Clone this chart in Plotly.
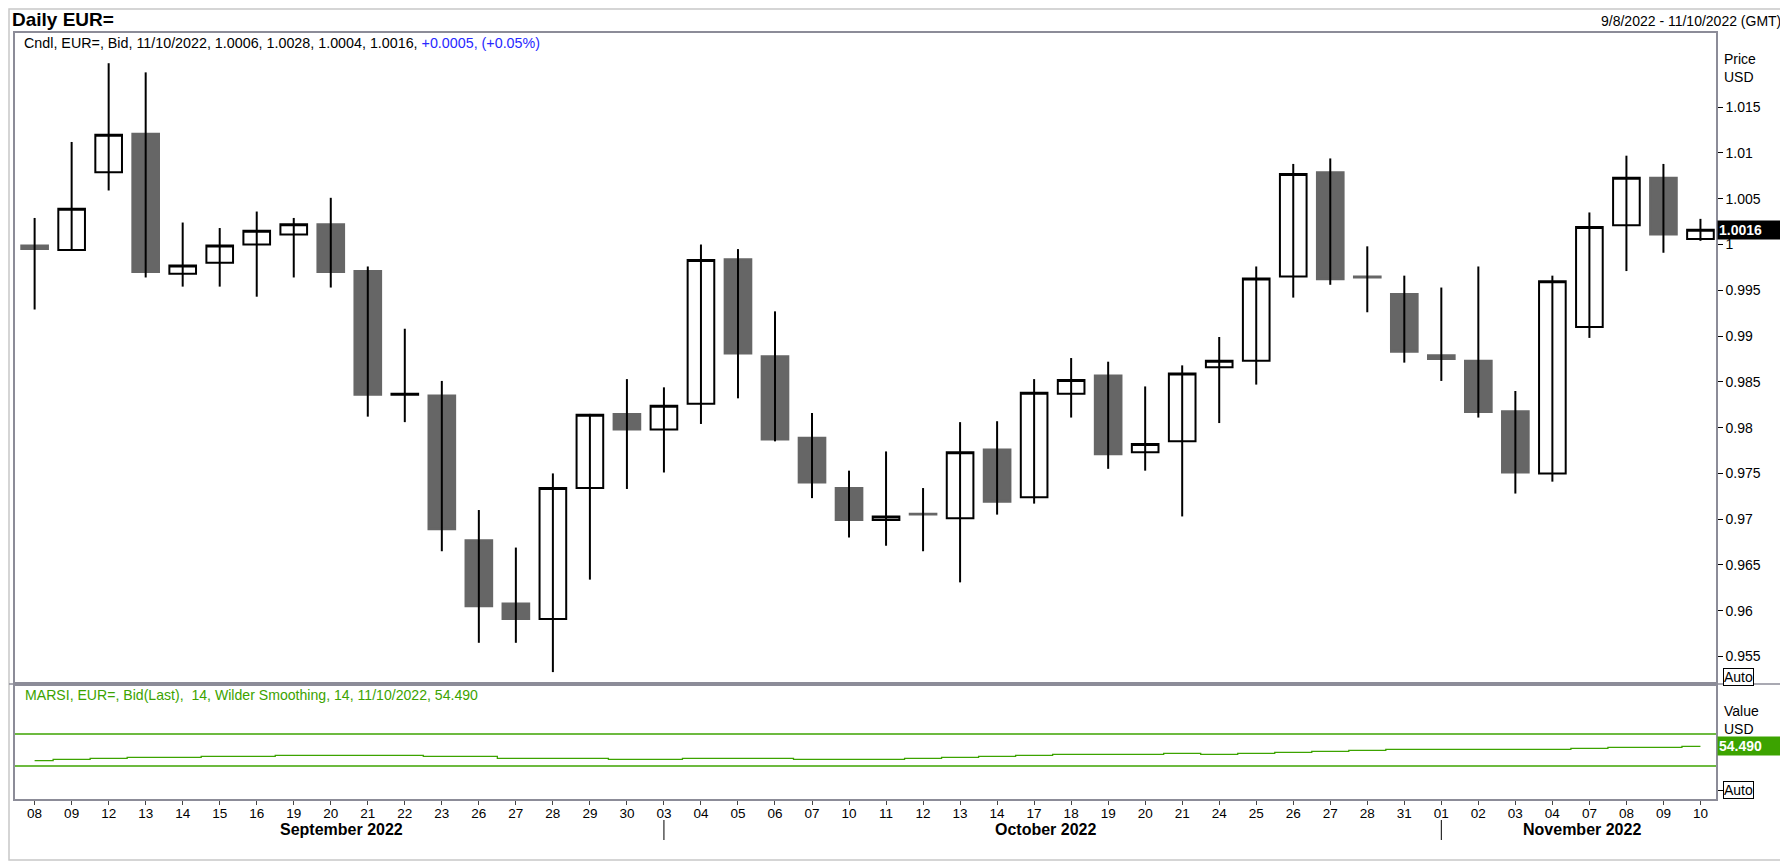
import plotly.graph_objects as go
from plotly.subplots import make_subplots

# Daily EUR= candles with the MARSI panel underneath

dates = ["2022-09-08", "2022-09-09", "2022-09-12", "2022-09-13", "2022-09-14", "2022-09-15",
         "2022-09-16", "2022-09-19", "2022-09-20", "2022-09-21", "2022-09-22", "2022-09-23",
         "2022-09-26", "2022-09-27", "2022-09-28", "2022-09-29", "2022-09-30",
         "2022-10-03", "2022-10-04", "2022-10-05", "2022-10-06", "2022-10-07", "2022-10-10",
         "2022-10-11", "2022-10-12", "2022-10-13", "2022-10-14", "2022-10-17", "2022-10-18",
         "2022-10-19", "2022-10-20", "2022-10-21", "2022-10-24", "2022-10-25", "2022-10-26",
         "2022-10-27", "2022-10-28", "2022-10-31",
         "2022-11-01", "2022-11-02", "2022-11-03", "2022-11-04", "2022-11-07", "2022-11-08",
         "2022-11-09", "2022-11-10"]
day_labels = [d[-2:] for d in dates]
month_names = {"09": "September 2022", "10": "October 2022", "11": "November 2022"}

opens = [0.9999, 0.9994, 1.0079, 1.0121, 0.9968, 0.9980, 1.0000, 1.0011, 1.0022, 0.9971,
         0.9836, 0.9835, 0.9677, 0.9608, 0.9591, 0.9734, 0.9815,
         0.9798, 0.9826, 0.9984, 0.9878, 0.9789, 0.9734, 0.9699, 0.9706, 0.9701, 0.9776,
         0.9724, 0.9837, 0.9857, 0.9773, 0.9785, 0.9866, 0.9873, 0.9965, 1.0079, 0.9965,
         0.9946,
         0.9879, 0.9873, 0.9818, 0.9750, 0.9910, 1.0021, 1.0073, 1.0006]
highs = [1.0029, 1.0112, 1.0198, 1.0188, 1.0024, 1.0018, 1.0036, 1.0029, 1.0051, 0.9976,
         0.9908, 0.9851, 0.9710, 0.9669, 0.9750, 0.9815, 0.9853,
         0.9844, 1.0000, 0.9995, 0.9927, 0.9816, 0.9753, 0.9774, 0.9734, 0.9806, 0.9807,
         0.9853, 0.9876, 0.9872, 0.9845, 0.9868, 0.9899, 0.9976, 1.0088, 1.0094, 0.9998,
         0.9966,
         0.9953, 0.9976, 0.9840, 0.9966, 1.0035, 1.0097, 1.0088, 1.0028]
lows = [0.9929, 0.9993, 1.0059, 0.9964, 0.9954, 0.9954, 0.9943, 0.9964, 0.9953, 0.9812,
        0.9806, 0.9665, 0.9565, 0.9565, 0.9533, 0.9634, 0.9733,
        0.9751, 0.9804, 0.9832, 0.9785, 0.9723, 0.9680, 0.9671, 0.9665, 0.9631, 0.9705,
        0.9717, 0.9811, 0.9755, 0.9753, 0.9703, 0.9805, 0.9847, 0.9942, 0.9956, 0.9926,
        0.9871,
        0.9851, 0.9811, 0.9728, 0.9741, 0.9898, 0.9971, 0.9991, 1.0004]
closes = [0.9995, 1.0039, 1.0120, 0.9970, 0.9977, 0.9999, 1.0015, 1.0022, 0.9970, 0.9836,
          0.9837, 0.9689, 0.9605, 0.9591, 0.9734, 0.9814, 0.9798,
          0.9824, 0.9983, 0.9881, 0.9787, 0.9740, 0.9699, 0.9703, 0.9705, 0.9773, 0.9719,
          0.9838, 0.9852, 0.9771, 0.9782, 0.9859, 0.9873, 0.9963, 1.0077, 0.9962, 0.9964,
          0.9883,
          0.9875, 0.9817, 0.9751, 0.9960, 1.0019, 1.0073, 1.0011, 1.0016]

rsi = [36.7, 38.3, 39.6, 40.8, 40.8, 42.1, 42.1, 43.3, 43.3, 43.3, 43.3, 42.1, 42.1,
       39.6, 39.6, 39.6, 38.3,
       38.3, 39.6, 39.6, 39.6, 38.3, 38.3, 38.3, 39.6, 40.8, 42.1, 43.3, 44.6, 44.6,
       44.6, 45.8, 44.6, 45.8, 47.1, 48.3, 49.6, 50.8,
       50.8, 50.8, 50.8, 50.8, 52.1, 53.3, 53.3, 54.49]
rsi_levels = [30, 70]

price_ticks = [0.955, 0.96, 0.965, 0.97, 0.975, 0.98, 0.985, 0.99, 0.995,
               1.0, 1.005, 1.01, 1.015]
rsi_ticks = [0, 50]
rsi_ticktext = ["", "50"]

FONT = "Liberation Sans, Arial, sans-serif"
GREEN = "rgb(60,163,0)"
BODY_GRAY = "#666666"
FRAME = "#8c8c98"

# pixel plan in screen coordinates: plot from x=15 to 1716, y=33 to 799, split at 684.
# the page body keeps its 8px margin, so the figure itself is shifted back by that much
W, H = 1788, 862
OFF = 8
pw, ph = 1716 - 15, 799 - 33
L, T = 15 - OFF, 33 - OFF
R, B = W - L - pw, H - T - ph
split = (799 - 684) / ph


def px(x):
    return (x - 15) / pw


def py(y):
    return (799 - y) / ph


fig = make_subplots(rows=2, cols=1, shared_xaxes=True, vertical_spacing=0)

# black wicks first, then the bodies on top of them
fig.add_trace(go.Ohlc(x=dates, open=opens, high=highs, low=lows, close=closes,
                      tickwidth=0, hoverinfo="skip",
                      increasing_line=dict(color="black", width=2),
                      decreasing_line=dict(color="black", width=2)), 1, 1)
body_top = [max(o, c) for o, c in zip(opens, closes)]
body_bot = [min(o, c) for o, c in zip(opens, closes)]
fig.add_trace(go.Candlestick(x=dates, open=opens, high=body_top, low=body_bot, close=closes,
                             increasing=dict(line=dict(color="black", width=2), fillcolor="white"),
                             decreasing=dict(line=dict(color=BODY_GRAY, width=2), fillcolor=BODY_GRAY)),
              1, 1)

fig.add_trace(go.Scatter(x=dates, y=rsi, mode="lines", line=dict(color=GREEN, width=1.3, shape="hvh"),
                         hoverinfo="skip"), 2, 1)
for lv in rsi_levels:
    fig.add_shape(type="line", xref="x2 domain", yref="y2", x0=0, x1=1, y0=lv, y1=lv,
                  line=dict(color=GREEN, width=1.3))

axis_common = dict(showline=True, mirror=True, linecolor=FRAME, linewidth=1.5, automargin=False,
                   showgrid=False, zeroline=False, type="category",
                   range=[-0.53, len(dates) - 0.58], rangeslider=dict(visible=False))
yaxis_common = dict(side="right", ticks="outside", ticklen=5, tickcolor="black", automargin=False,
                    tickfont=dict(family=FONT, size=14, color="black"),
                    showline=True, mirror=True, linecolor=FRAME, linewidth=1.5,
                    showgrid=False, zeroline=False)
fig.update_layout(
    xaxis=dict(**axis_common, showticklabels=False, ticks=""),
    xaxis2=dict(**axis_common, ticks="outside", ticklen=4, tickcolor="#444",
                ticklabelstandoff=-3,
                tickvals=dates, ticktext=day_labels,
                tickfont=dict(family=FONT, size=13.5, color="black")),
    yaxis=dict(**yaxis_common, domain=[split, 1], range=[0.952, 1.0231], tickvals=price_ticks),
    yaxis2=dict(**yaxis_common, domain=[0, split], range=[-11.25, 132.5],
                tickvals=rsi_ticks, ticktext=rsi_ticktext),
    boxgap=0.28, boxgroupgap=0,
    width=W, height=H,
    margin=dict(l=L, r=R, t=T, b=B, pad=0),
    paper_bgcolor="white", plot_bgcolor="white",
    showlegend=False,
    font=dict(family=FONT, size=14, color="black"),
)

# month names under the day labels, separators at the first day of a new month
months = [d[5:7] for d in dates]
for m in sorted(set(months)):
    idx = [i for i, mm in enumerate(months) if mm == m]
    fig.add_annotation(x=(idx[0] + idx[-1]) / 2 + 0.3, xref="x2", y=py(830), yref="paper",
                       text="<b>%s</b>" % month_names[m], showarrow=False, borderpad=0,
                       font=dict(size=16), yanchor="middle")
    if idx[0] > 0:
        fig.add_shape(type="line", xref="x2", yref="paper", x0=dates[idx[0]], x1=dates[idx[0]],
                      y0=py(820), y1=py(840), line=dict(color="black", width=1))

# header texts
fig.add_annotation(x=px(11), y=py(19.5), xref="paper", yref="paper", xanchor="left", yanchor="middle",
                   text="<b>Daily EUR=</b>", showarrow=False, borderpad=0, font=dict(size=19))
fig.add_annotation(x=px(1783), y=py(21), xref="paper", yref="paper", xanchor="right", yanchor="middle",
                   text="%s - %s (GMT)" % ("9/8/2022", "11/10/2022"), showarrow=False, font=dict(size=14))

chg = closes[-1] - closes[-2]
pct = chg / closes[-2] * 100
legend = ("Cndl, EUR=, Bid, 11/10/2022, %.4f, %.4f, %.4f, %.4f, " % (opens[-1], highs[-1], lows[-1], closes[-1])
          + "<span style='color:#2828ff'>%+.4f, (%+.2f%%)</span>" % (chg, pct))
fig.add_annotation(x=px(22), y=py(43), xref="paper", yref="paper", xanchor="left", yanchor="middle",
                   text=legend, showarrow=False, font=dict(size=14.3))
fig.add_annotation(x=px(23), y=py(695), xref="paper", yref="paper", xanchor="left", yanchor="middle",
                   text="MARSI, EUR=, Bid(Last),&nbsp; 14, Wilder Smoothing, 14, 11/10/2022, %.3f" % rsi[-1],
                   showarrow=False, font=dict(size=14.1, color=GREEN))

# right axis captions, value tags and Auto buttons
fig.add_annotation(x=1, xshift=6, y=py(49), xref="paper", yref="paper", xanchor="left", yanchor="top",
                   text="Price<br>USD", align="left", showarrow=False, font=dict(size=14))
fig.add_annotation(x=1, xshift=6, y=py(701), xref="paper", yref="paper", xanchor="left", yanchor="top",
                   text="Value<br>USD", align="left", showarrow=False, font=dict(size=14))
fig.add_annotation(x=1, xshift=1, y=closes[-1], xref="paper", yref="y", xanchor="left", yanchor="middle",
                   text="<b>%.4f</b>" % closes[-1], showarrow=False, bgcolor="black",
                   width=66, align="left", borderpad=1, font=dict(size=14, color="white"))
fig.add_annotation(x=1, xshift=1, y=rsi[-1], xref="paper", yref="y2", xanchor="left", yanchor="middle",
                   text="<b>%.3f</b>" % rsi[-1], showarrow=False, bgcolor=GREEN,
                   width=66, align="left", borderpad=1, font=dict(size=14, color="white"))
fig.add_annotation(x=1, xshift=7, y=py(676.5), xref="paper", yref="paper", xanchor="left", yanchor="middle",
                   text="Auto", showarrow=False, bgcolor="white", bordercolor="black", borderwidth=1,
                   borderpad=0, font=dict(size=14))
fig.add_annotation(x=1, xshift=7, y=0, xref="paper", yref="y2", xanchor="left", yanchor="middle",
                   text="Auto", showarrow=False, bgcolor="white", bordercolor="black", borderwidth=1,
                   borderpad=0, font=dict(size=14))

# outer window frame and the panel divider running across the axis column
fig.add_shape(type="rect", xref="paper", yref="paper", x0=px(OFF + 1), x1=px(1786), y0=py(860), y1=py(OFF + 1),
              line=dict(color="#c8c8c8", width=1.5))
fig.add_shape(type="line", xref="paper", yref="paper", x0=px(OFF + 1), x1=px(1786), y0=split, y1=split,
              line=dict(color=FRAME, width=1.5))

fig.write_html("out.html")
